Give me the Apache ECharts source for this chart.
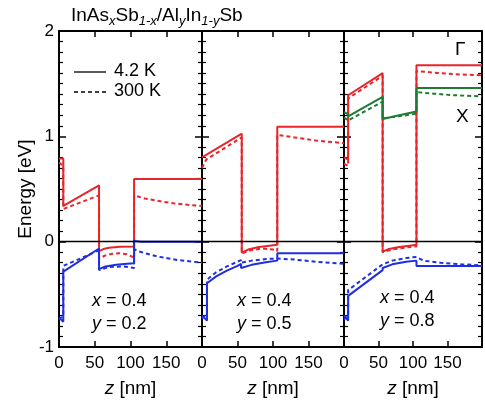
<!DOCTYPE html>
<html><head><meta charset="utf-8">
<script src="https://cdn.jsdelivr.net/npm/echarts@6/dist/echarts.min.js"></script>
<style>html,body{margin:0;padding:0;background:#fff}#c{width:485px;height:408px}</style>
</head><body><div id="c"></div>
<script>
// ---- data ----
const xTickLabels = [0, 50, 100, 150];
const yTickLabels = [-1, 0, 1, 2];
const panelX = ['0.4', '0.4', '0.4'];
const panelY = ['0.2', '0.5', '0.8'];
const legendLabels = ['4.2 K', '300 K'];

// Panel 1 (y = 0.2)
const p1_cb_4K = [[0,0.79],[6,0.79],[6,0.34],[56,0.535],[56,-0.09],[62,-0.07],[70,-0.057],[85,-0.048],[105,-0.045],[105,0.595],[200,0.595]];
const p1_cb_300K = [[0,0.75],[6,0.72],[6,0.31],[56,0.44],[56,-0.16],[65,-0.13],[75,-0.115],[85,-0.11],[95,-0.12],[105,-0.15],[105,0.44],[120,0.41],[140,0.385],[160,0.365],[180,0.35],[200,0.34]];
const p1_vb_4K = [[0,-0.72],[6,-0.76],[6,-0.285],[56,-0.065],[56,-0.26],[65,-0.235],[80,-0.22],[95,-0.21],[105,-0.205],[105,0.006],[115,0.0],[200,0]];
const p1_vb_300K = [[0,-0.74],[6,-0.70],[6,-0.23],[30,-0.16],[56,-0.08],[56,-0.27],[70,-0.24],[90,-0.235],[105,-0.25],[105,-0.07],[110,-0.09],[137,-0.14],[165,-0.174],[200,-0.2]];

// Panel 2 (y = 0.5)
const p2_cb_4K = [[0,0.80],[56,1.025],[56,-0.105],[65,-0.075],[80,-0.05],[95,-0.038],[106,-0.03],[106,1.09],[200,1.09]];
const p2_cb_300K = [[0,0.70],[6,0.78],[56,0.99],[56,-0.11],[70,-0.08],[85,-0.065],[100,-0.075],[106,-0.09],[106,1.013],[130,0.99],[160,0.96],[200,0.935]];
const p2_vb_4K = [[0,-0.70],[7,-0.75],[7,-0.395],[20,-0.33],[35,-0.275],[50,-0.23],[55,-0.21],[55,-0.25],[70,-0.22],[90,-0.195],[106,-0.18],[106,-0.11],[200,-0.11]];
const p2_vb_300K = [[0,-0.73],[7,-0.68],[7,-0.36],[20,-0.29],[35,-0.235],[55,-0.175],[55,-0.2],[70,-0.18],[90,-0.165],[106,-0.16],[130,-0.17],[160,-0.19],[200,-0.21]];

// Panel 3 (y = 0.8)
const p3_cb_4K = [[0,0.80],[6,0.78],[6,1.39],[56,1.60],[56,-0.095],[65,-0.07],[80,-0.05],[95,-0.038],[105,-0.03],[105,1.675],[200,1.675]];
const p3_cb_300K = [[0,0.74],[6,0.72],[6,1.36],[56,1.575],[56,-0.10],[70,-0.075],[90,-0.055],[105,-0.045],[105,1.62],[130,1.605],[160,1.59],[200,1.58]];
const p3_x_4K = [[0,1.23],[6,1.21],[6,1.19],[56,1.375],[56,1.165],[80,1.2],[105,1.235],[105,1.46],[200,1.46]];
const p3_x_300K = [[0,1.18],[6,1.15],[56,1.33],[56,1.17],[80,1.19],[105,1.215],[105,1.42],[130,1.405],[160,1.39],[200,1.38]];
const p3_vb_4K = [[0,-0.70],[6,-0.75],[6,-0.515],[56,-0.27],[56,-0.25],[70,-0.215],[90,-0.19],[105,-0.18],[105,-0.23],[200,-0.23]];
const p3_vb_300K = [[0,-0.74],[6,-0.70],[6,-0.46],[56,-0.215],[70,-0.18],[90,-0.155],[105,-0.145],[115,-0.18],[140,-0.2],[170,-0.215],[200,-0.225]];

// ---- styling / layout ----
const FONT = '"Liberation Sans", Arial, Helvetica, sans-serif';
const RED = '#e6262b', BLUE = '#1f2ee0', GREEN = '#1e7b34';
const TOP = 31, HEIGHT = 316;
const gridsPos = [{left:59,width:143},{left:202,width:142},{left:344,width:142}];

const panels = [
  [[p1_cb_4K,RED,'solid'],[p1_cb_300K,RED,'dash'],[p1_vb_4K,BLUE,'solid'],[p1_vb_300K,BLUE,'dash']],
  [[p2_cb_4K,RED,'solid'],[p2_cb_300K,RED,'dash'],[p2_vb_4K,BLUE,'solid'],[p2_vb_300K,BLUE,'dash']],
  [[p3_cb_4K,RED,'solid'],[p3_cb_300K,RED,'dash'],[p3_x_4K,GREEN,'solid'],[p3_x_300K,GREEN,'dash'],[p3_vb_4K,BLUE,'solid'],[p3_vb_300K,BLUE,'dash']]
];

const grid = [], xAxis = [], yAxis = [], series = [], graphic = [];
const axLine = {show:true, onZero:false, lineStyle:{color:'#000', width:2}};
const xMin = xTickLabels[0], xMax = 200, xInt = xTickLabels[1]-xTickLabels[0];
const yMin = yTickLabels[0], yMax = yTickLabels[yTickLabels.length-1];

gridsPos.forEach((g, i) => {
  grid.push({left:g.left, top:TOP, width:g.width, height:HEIGHT, containLabel:false});
  xAxis.push({type:'value', gridIndex:i, min:xMin, max:xMax, interval:xInt, position:'bottom',
    axisLine:axLine, splitLine:{show:false},
    axisTick:{inside:true, length:6, lineStyle:{color:'#000', width:1.5}},
    axisLabel:{color:'#000', fontSize:17, fontFamily:FONT, margin:8,
      formatter: v => xTickLabels.indexOf(v) >= 0 ? String(v) : ''},
    name:'{i|z} [nm]', nameLocation:'middle', nameGap:32,
    nameTextStyle:{color:'#000', fontSize:19, fontFamily:FONT,
      rich:{i:{fontStyle:'italic', fontSize:19, fontFamily:FONT, color:'#000'}}}
  });
  xAxis.push({type:'value', gridIndex:i, min:xMin, max:xMax, interval:xInt, position:'top',
    axisLine:axLine, splitLine:{show:false}, axisLabel:{show:false},
    axisTick:{inside:true, length:6, lineStyle:{color:'#000', width:1.5}}});
  yAxis.push({type:'value', gridIndex:i, min:yMin, max:yMax, interval:1, position:'left',
    axisLine:axLine, splitLine:{show:false},
    axisTick:{inside:true, length:7, lineStyle:{color:'#000', width:1.5}},
    minorTick:{show:true, splitNumber:10, length:4, lineStyle:{color:'#000', width:1.2}},
    axisLabel:{show:i===0, color:'#000', fontSize:17, fontFamily:FONT, margin:5,
      formatter: v => yTickLabels.indexOf(v) >= 0 ? String(v) : ''},
    name: i===0 ? 'Energy [eV]' : '', nameLocation:'middle', nameGap:24,
    nameTextStyle:{color:'#000', fontSize:19, fontFamily:FONT}
  });
  yAxis.push({type:'value', gridIndex:i, min:yMin, max:yMax, interval:1, position:'right',
    axisLine:axLine, splitLine:{show:false}, axisLabel:{show:false},
    axisTick:{inside:true, length:7, lineStyle:{color:'#000', width:1.5}},
    minorTick:{show:true, splitNumber:10, length:4, lineStyle:{color:'#000', width:1.2}}});

  panels[i].forEach(([data, color, style]) => {
    series.push({type:'line', xAxisIndex:2*i, yAxisIndex:2*i, data:data,
      showSymbol:false, symbol:'none', animation:false, silent:true, z:3,
      lineStyle:{color:color, width:2, type: style==='dash' ? [4,3] : 'solid'}});
  });
  series.push({type:'line', xAxisIndex:2*i, yAxisIndex:2*i, data:[], z:10, animation:false, silent:true,
    markLine:{silent:true, symbol:'none', label:{show:false}, animation:false,
      lineStyle:{color:'#000', width:1.3, type:'solid'}, data:[{yAxis:0}]}});

  const ann = [[92,303],[237,303],[380,300]][i];
  graphic.push({type:'text', left:ann[0], top:ann[1]-11, z:20,
    style:{text:'{i|x} = ' + panelX[i], font:'18px ' + FONT, fill:'#000',
      rich:{i:{fontStyle:'italic', fontSize:18, fontFamily:FONT, fill:'#000'}}}});
  graphic.push({type:'text', left:ann[0], top:ann[1]+12, z:20,
    style:{text:'{i|y} = ' + panelY[i], font:'18px ' + FONT, fill:'#000',
      rich:{i:{fontStyle:'italic', fontSize:18, fontFamily:FONT, fill:'#000'}}}});
});

graphic.push({type:'line', shape:{x1:74, y1:72, x2:106, y2:72}, style:{stroke:'#000', lineWidth:1.3}, z:20});
graphic.push({type:'line', shape:{x1:74, y1:92, x2:106, y2:92}, style:{stroke:'#000', lineWidth:1.3, lineDash:[4,3]}, z:20});
graphic.push({type:'text', left:114, top:62, z:20, style:{text:legendLabels[0], font:'18px ' + FONT, fill:'#000'}});
graphic.push({type:'text', left:114, top:82, z:20, style:{text:legendLabels[1], font:'18px ' + FONT, fill:'#000'}});
graphic.push({type:'text', left:455, top:40, z:20, style:{text:'Γ', font:'19px ' + FONT, fill:'#000'}});
graphic.push({type:'text', left:456, top:107, z:20, style:{text:'X', font:'19px ' + FONT, fill:'#000'}});

const chart = echarts.init(document.getElementById('c'), null, {renderer:'canvas'});
chart.setOption({
  animation:false,
  backgroundColor:'#fff',
  title:{text:'InAs{s|x}Sb{s|1-x}/Al{s|y}In{s|1-y}Sb', left:66, top:-1,
    textStyle:{fontSize:19, fontWeight:'normal', color:'#000', fontFamily:FONT, lineHeight:24,
      rich:{s:{fontSize:13, fontStyle:'italic', color:'#000', fontFamily:FONT, verticalAlign:'bottom', lineHeight:14}}}},
  grid, xAxis, yAxis, series, graphic
});
</script></body></html>
